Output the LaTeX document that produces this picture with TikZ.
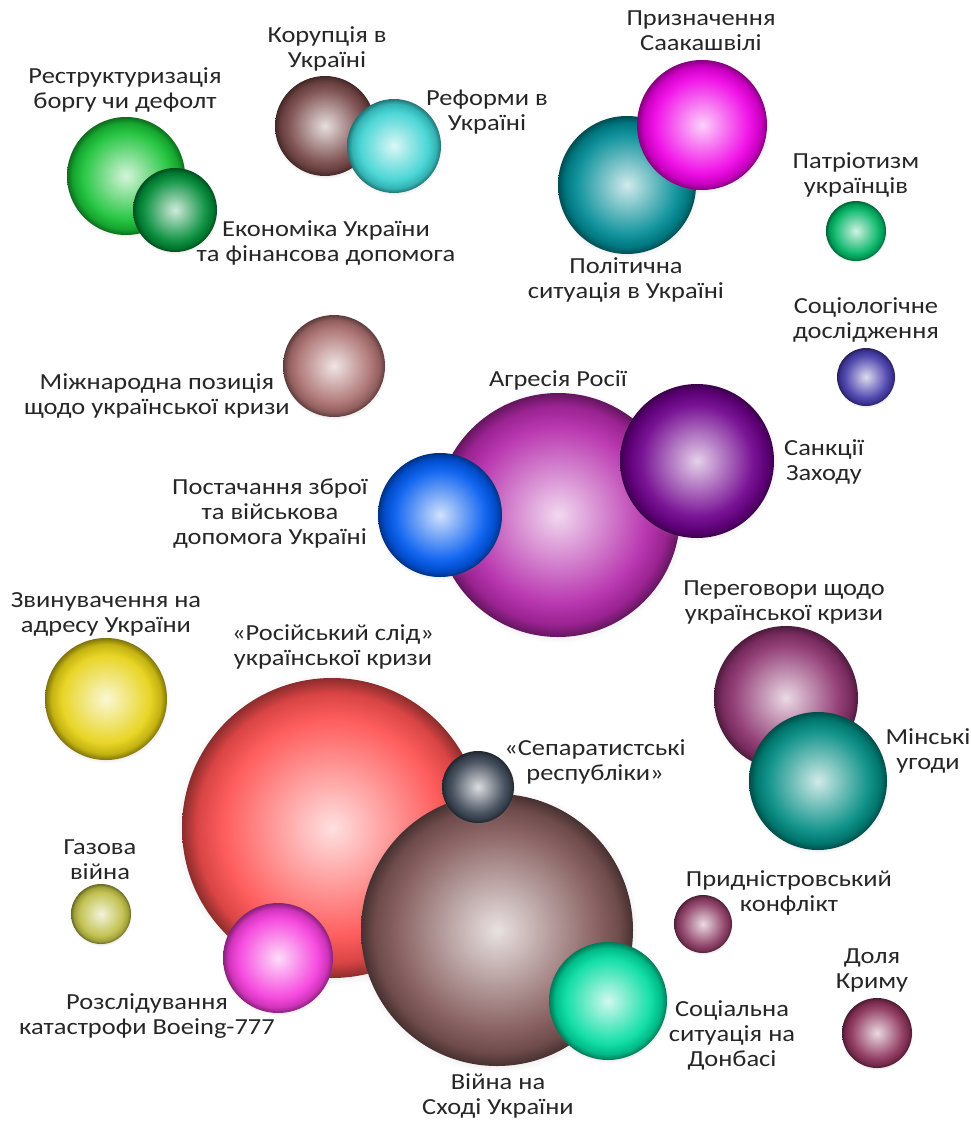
\documentclass[tikz,border=0pt]{standalone}
\usepackage{fontspec}
\setmainfont{Carlito}[FakeStretch=1.15]
\usetikzlibrary{shadows}

% bubble colours
\definecolor{restrcol}{RGB}{25,195,55}
\definecolor{econcol}{RGB}{0,140,55}
\definecolor{corrcol}{RGB}{120,72,72}
\definecolor{reformcol}{RGB}{60,210,210}
\definecolor{politcol}{RGB}{0,140,150}
\definecolor{saakcol}{RGB}{240,0,230}
\definecolor{patrcol}{RGB}{0,180,100}
\definecolor{sociocol}{RGB}{70,60,170}
\definecolor{intlcol}{RGB}{170,110,110}
\definecolor{aggrcol}{RGB}{180,40,170}
\definecolor{sanccol}{RGB}{110,0,140}
\definecolor{armscol}{RGB}{0,90,240}
\definecolor{accuscol}{RGB}{230,210,20}
\definecolor{negotcol}{RGB}{140,50,110}
\definecolor{minskcol}{RGB}{0,140,130}
\definecolor{tracecol}{RGB}{255,80,80}
\definecolor{separcol}{RGB}{60,70,85}
\definecolor{warcol}{RGB}{130,88,88}
\definecolor{gascol}{RGB}{190,190,70}
\definecolor{boeingcol}{RGB}{245,60,220}
\definecolor{donbascol}{RGB}{0,220,160}
\definecolor{transncol}{RGB}{140,60,100}
\definecolor{crimeacol}{RGB}{140,50,90}

\colorlet{bubcol}{red}
\pgfdeclareradialshading[bubcol]{bubble}{\pgfpoint{0bp}{0bp}}{%
  color(0bp)=(bubcol!18!white);
  color(9bp)=(bubcol!55!white);
  color(18bp)=(bubcol!92!white);
  color(22.5bp)=(bubcol!85!black);
  color(25bp)=(bubcol!55!black);
  color(50bp)=(bubcol!55!black)}

\tikzset{
  bubble/.style 2 args={circle, inner sep=0pt, minimum size=#2pt,
    /utils/exec={\colorlet{bubcol}{#1}}, shading=bubble,
    circular drop shadow={shadow xshift=0pt, shadow yshift=-1pt,
      shadow scale=1.04, opacity=.3}},
  lbl/.style={align=center, inner sep=0pt, text=black!85,
    font=\fontsize{23}{25}\selectfont}
}

\begin{document}
\begin{tikzpicture}[x=1pt, y=-1pt]
\useasboundingbox (0,0) rectangle (971,1124);

% top row
\node[bubble={restrcol}{118}] (restr) at (126,176) {};
\node[bubble={econcol}{84}] (econ) at (175,210) {};
\node[bubble={corrcol}{100}] (corr) at (325,126) {};
\node[bubble={reformcol}{94}] (reform) at (394,146) {};
\node[bubble={politcol}{138}] (polit) at (627,185) {};
\node[bubble={saakcol}{130}] (saak) at (702,125) {};
\node[bubble={patrcol}{60}] (patr) at (856,231) {};

% middle
\node[bubble={sociocol}{58}] (socio) at (866,377) {};
\node[bubble={intlcol}{102}] (intl) at (334,366) {};
\node[bubble={aggrcol}{244}] (aggr) at (558,515) {};
\node[bubble={sanccol}{154}] (sanc) at (697,461) {};
\node[bubble={armscol}{124}] (arms) at (440,515) {};

% bottom
\node[bubble={accuscol}{122}] (accus) at (106,699) {};
\node[bubble={negotcol}{144}] (negot) at (786,698) {};
\node[bubble={minskcol}{138}] (minsk) at (818,781) {};
\node[bubble={tracecol}{300}] (trace) at (332,828) {};
\node[bubble={warcol}{272}] (war) at (497,930) {};
\node[bubble={separcol}{72}] (separ) at (478,787) {};
\node[bubble={gascol}{60}] (gas) at (101,914) {};
\node[bubble={boeingcol}{110}] (boeing) at (278,958) {};
\node[bubble={donbascol}{118}] (donbas) at (608,1001) {};
\node[bubble={transncol}{58}] (transn) at (703,924) {};
\node[bubble={crimeacol}{70}] (crimea) at (877,1033) {};

% labels
\node[lbl] (restr-l) at (125,90) {Реструктуризація\\боргу чи дефолт};
\node[lbl] (econ-l) at (326,243) {Економіка України\\та фінансова допомога};
\node[lbl] (corr-l) at (327,49) {Корупція в\\Україні};
\node[lbl] (reform-l) at (487,112) {Реформи в\\Україні};
\node[lbl] (saak-l) at (701,31) {Призначення\\Саакашвілі};
\node[lbl] (polit-l) at (626,280) {Політична\\ситуація в Україні};
\node[lbl] (patr-l) at (856,175) {Патріотизм\\українців};
\node[lbl] (socio-l) at (866,320) {Соціологічне\\дослідження};
\node[lbl] (intl-l) at (157,396) {Міжнародна позиція\\щодо української кризи};
\node[lbl] (aggr-l) at (558,380) {Агресія Росії};
\node[lbl] (sanc-l) at (824,462) {Санкції\\Заходу};
\node[lbl] (arms-l) at (270,514) {Постачання зброї\\та військова\\допомога Україні};
\node[lbl] (accus-l) at (106,614) {Звинувачення на\\адресу України};
\node[lbl] (trace-l) at (333,647) {«Російський слід»\\української кризи};
\node[lbl] (separ-l) at (595,762) {«Сепаратистські\\республіки»};
\node[lbl] (negot-l) at (784,602) {Переговори щодо\\української кризи};
\node[lbl] (minsk-l) at (928,751) {Мінські\\угоди};
\node[lbl] (gas-l) at (100,860) {Газова\\війна};
\node[lbl] (boeing-l) at (147,1016) {Розслідування\\катастрофи Boeing-777};
\node[lbl] (war-l) at (498,1096) {Війна на\\Сході України};
\node[lbl] (transn-l) at (789,893) {Придністровський\\конфлікт};
\node[lbl] (donbas-l) at (732,1035) {Соціальна\\ситуація на\\Донбасі};
\node[lbl] (crimea-l) at (872,970) {Доля\\Криму};
\end{tikzpicture}
\end{document}
